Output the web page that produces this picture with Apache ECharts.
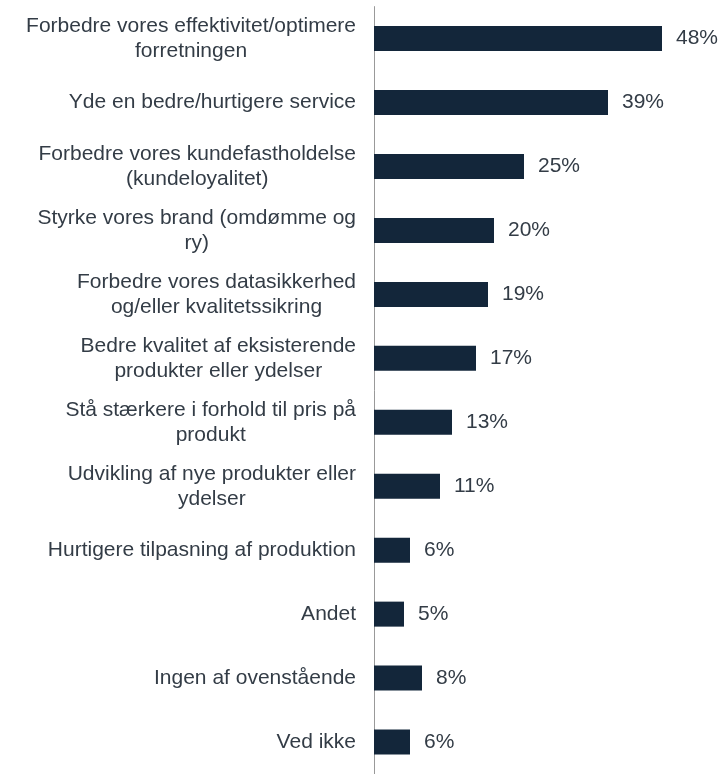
<!DOCTYPE html>
<html>
<head>
<meta charset="utf-8">
<script src="https://cdn.jsdelivr.net/npm/echarts@6/dist/echarts.min.js"></script>
<style>
  html, body { margin: 0; padding: 0; background: #ffffff; }
  #chart { width: 723px; height: 774px; }
</style>
</head>
<body>
<div id="chart"></div>
<script>
// Survey answers (share of respondents), top to bottom
const categories = [
  'Forbedre vores effektivitet/optimere\nforretningen',
  'Yde en bedre/hurtigere service',
  'Forbedre vores kundefastholdelse\n(kundeloyalitet)',
  'Styrke vores brand (omdømme og\nry)',
  'Forbedre vores datasikkerhed\nog/eller kvalitetssikring',
  'Bedre kvalitet af eksisterende\nprodukter eller ydelser',
  'Stå stærkere i forhold til pris på\nprodukt',
  'Udvikling af nye produkter eller\nydelser',
  'Hurtigere tilpasning af produktion',
  'Andet',
  'Ingen af ovenstående',
  'Ved ikke'
];
const shares = [48, 39, 25, 20, 19, 17, 13, 11, 6, 5, 8, 6];

const FONT = "'Liberation Sans', Arial, Helvetica, sans-serif";
const TEXT_COLOR = '#333c46';
const BAR_COLOR = '#13263a';

const chart = echarts.init(document.getElementById('chart'), null, { renderer: 'canvas' });

chart.setOption({
  animation: false,
  backgroundColor: '#ffffff',
  grid: { left: 374, right: 49, top: 6.6, bottom: -6.4, containLabel: false },
  xAxis: {
    type: 'value',
    min: 0,
    max: 50,
    show: false,
    splitLine: { show: false }
  },
  yAxis: {
    type: 'category',
    inverse: true,
    data: categories,
    axisTick: { show: false },
    axisLine: { show: true, lineStyle: { color: '#999999', width: 1 } },
    axisLabel: {
      margin: 18,
      // every line of a wrapped label is centred within its own block
      formatter: (v) => v.split('\n').map((l) => '{c|' + l + '}').join('\n'),
      rich: {
        c: {
          align: 'center',
          fontSize: 21,
          lineHeight: 25,
          fontFamily: FONT,
          color: TEXT_COLOR
        }
      }
    }
  },
  series: [{
    type: 'bar',
    data: shares,
    barWidth: 25,
    itemStyle: { color: BAR_COLOR },
    label: {
      show: true,
      position: 'right',
      distance: 14,
      formatter: '{c}%',
      fontSize: 21,
      fontFamily: FONT,
      color: TEXT_COLOR
    }
  }]
});
</script>
</body>
</html>
